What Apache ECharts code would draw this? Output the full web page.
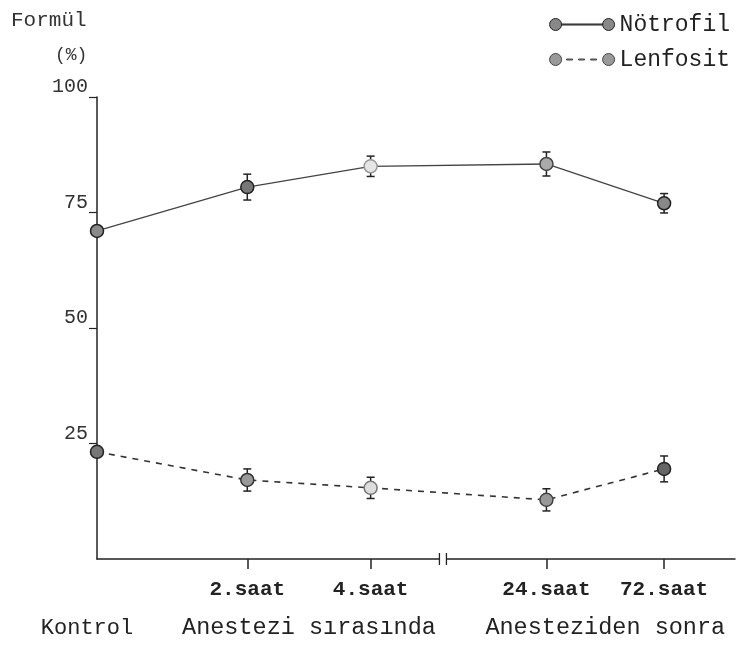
<!DOCTYPE html>
<html>
<head>
<meta charset="utf-8">
<script src="https://cdn.jsdelivr.net/npm/echarts@6/dist/echarts.min.js"></script>
<style>html,body{margin:0;padding:0;background:#fff;}#c{width:737px;height:650px;}</style>
</head>
<body>
<div id="c"></div>
<script>
// ---- data ----
const categories = ['Kontrol', '2.saat', '4.saat', '24.saat', '72.saat'];
const xSlot = [0, 1.06, 1.93, 3.17, 4.0];          // position of each time point on the (non-linear) x axis
const notrofil = [71, 80.5, 85, 85.5, 77];
const notrofilErr = [0, 2.8, 2.2, 2.6, 2.1];
const lenfosit = [23.2, 17.1, 15.4, 12.8, 19.5];
const lenfositErr = [0, 2.4, 2.3, 2.4, 2.8];
const yTicks = [0, 25, 50, 75, 100];
const groupNames = ['Kontrol', 'Anestezi sırasında', 'Anesteziden sonra'];
const groupMembers = [[0, 0], [1, 2], [3, 4]];
const axisBreakAt = 2.44;

// ---- styles (kept apart from data) ----
const FONT = '"Liberation Mono", "DejaVu Sans Mono", monospace';
const nFill = ['#8a8a8a', '#777', '#e6e6e6', '#aaa', '#888'];
const nBorder = ['#222', '#222', '#999', '#444', '#222'];
const lFill = ['#777', '#999', '#ddd', '#999', '#666'];
const lBorder = ['#222', '#333', '#777', '#444', '#222'];

const chart = echarts.init(document.getElementById('c'), null, {renderer: 'canvas'});

function pts(vals, fills, borders) {
  return vals.map((v, i) => ({
    value: [xSlot[i], v],
    itemStyle: {color: fills[i], borderColor: borders[i], borderWidth: 1.5}
  }));
}
function errData(vals, errs) {
  return vals.map((v, i) => [xSlot[i], v, errs[i]]);
}
function renderErr(params, api) {
  const x = api.value(0), y = api.value(1), e = api.value(2);
  if (!e) return null;
  const t = api.coord([x, y + e]), b = api.coord([x, y - e]);
  const st = {stroke: '#222', lineWidth: 1.5};
  return {type: 'group', children: [
    {type: 'line', shape: {x1: t[0], y1: t[1], x2: b[0], y2: b[1]}, style: st},
    {type: 'line', shape: {x1: t[0] - 4, y1: t[1], x2: t[0] + 4, y2: t[1]}, style: st},
    {type: 'line', shape: {x1: b[0] - 4, y1: b[1], x2: b[0] + 4, y2: b[1]}, style: st}
  ]};
}

const iconSolid = 'path://M0,6.5a6,6 0 1,0 12,0a6,6 0 1,0 -12,0Z M12,6L53,6L53,7L12,7Z M53,6.5a6,6 0 1,0 12,0a6,6 0 1,0 -12,0Z';
const iconDash = 'path://M0,6.5a6,6 0 1,0 12,0a6,6 0 1,0 -12,0Z M17,6L23,6L23,7L17,7Z M29,6L35,6L35,7L29,7Z M41,6L47,6L47,7L41,7Z M53,6.5a6,6 0 1,0 12,0a6,6 0 1,0 -12,0Z';

chart.setOption({
  animation: false,
  backgroundColor: '#fff',
  title: [
    {text: 'Formül', left: 6, top: 5, textStyle: {fontFamily: FONT, fontSize: 21, fontWeight: 'normal', color: '#333'}},
    {text: '(%)', left: 50, top: 41, textStyle: {fontFamily: FONT, fontSize: 18, fontWeight: 'normal', color: '#333'}}
  ],
  legend: {
    orient: 'vertical', right: 2, top: 8, align: 'left',
    itemWidth: 65, itemHeight: 12, itemGap: 12,
    textStyle: {fontFamily: FONT, fontSize: 23, color: '#222'},
    data: [
      {name: 'Nötrofil', icon: iconSolid, itemStyle: {color: '#888', borderColor: '#222', borderWidth: 1}},
      {name: 'Lenfosit', icon: iconDash, itemStyle: {color: '#999', borderColor: '#444', borderWidth: 1}}
    ]
  },
  grid: {left: 97, right: 2, top: 97, bottom: 91, containLabel: false},
  xAxis: {
    type: 'value', min: 0, max: 4.5,
    axisLine: {show: true, lineStyle: {color: '#222', width: 1.5}},
    axisTick: {show: true, customValues: xSlot.slice(1), length: 10, lineStyle: {color: '#222', width: 1.5}},
    axisLabel: {
      customValues: xSlot.slice(1), margin: 20,
      formatter: v => categories[xSlot.indexOf(v)] || '',
      fontFamily: FONT, fontSize: 21, fontWeight: 'bold', color: '#222'
    },
    splitLine: {show: false}
  },
  yAxis: {
    type: 'value', min: 0, max: 100, interval: 25,
    axisLine: {show: true, lineStyle: {color: '#222', width: 1.5}},
    axisTick: {show: true, length: 8, customValues: yTicks.slice(1), lineStyle: {color: '#222', width: 1.2}},
    axisLabel: {
      customValues: yTicks.slice(1), margin: 9, verticalAlign: 'bottom',
      fontFamily: FONT, fontSize: 20, color: '#333'
    },
    splitLine: {show: false}
  },
  series: [
    {
      name: 'Nötrofil', type: 'line', data: pts(notrofil, nFill, nBorder),
      symbol: 'circle', symbolSize: 13, z: 3,
      lineStyle: {color: '#444', width: 1.3, type: 'solid'}
    },
    {
      name: 'Lenfosit', type: 'line', data: pts(lenfosit, lFill, lBorder),
      symbol: 'circle', symbolSize: 13, z: 3,
      lineStyle: {color: '#333', width: 1.6, type: [6, 6]}
    },
    {name: 'NötrofilErr', type: 'custom', renderItem: renderErr, data: errData(notrofil, notrofilErr), z: 2, silent: true},
    {name: 'LenfositErr', type: 'custom', renderItem: renderErr, data: errData(lenfosit, lenfositErr), z: 2, silent: true}
  ]
});

// group labels under the axis and the axis break mark
const gfx = [];
groupNames.forEach((name, gi) => {
  const a = chart.convertToPixel({gridIndex: 0}, [xSlot[groupMembers[gi][0]], 0]);
  const b = chart.convertToPixel({gridIndex: 0}, [xSlot[groupMembers[gi][1]], 0]);
  let cx = (a[0] + b[0]) / 2;
  if (gi === 0) cx -= 10;
  gfx.push({type: 'text', x: cx, y: a[1] + 69, z: 10,
    style: {text: name, fontFamily: FONT, fontSize: gi === 0 ? 22 : 23.5, fill: '#222', align: 'center', verticalAlign: 'middle'}});
});
const bp = chart.convertToPixel({gridIndex: 0}, [axisBreakAt, 0]);
gfx.push({type: 'rect', shape: {x: bp[0] - 3, y: bp[1] - 3, width: 7, height: 6}, style: {fill: '#fff'}, z: 10});
gfx.push({type: 'line', shape: {x1: bp[0] - 3.5, y1: bp[1] - 6, x2: bp[0] - 3.5, y2: bp[1] + 6}, style: {stroke: '#222', lineWidth: 1.3}, z: 11});
gfx.push({type: 'line', shape: {x1: bp[0] + 3.5, y1: bp[1] - 6, x2: bp[0] + 3.5, y2: bp[1] + 6}, style: {stroke: '#222', lineWidth: 1.3}, z: 11});
chart.setOption({graphic: gfx});
</script>
</body>
</html>
